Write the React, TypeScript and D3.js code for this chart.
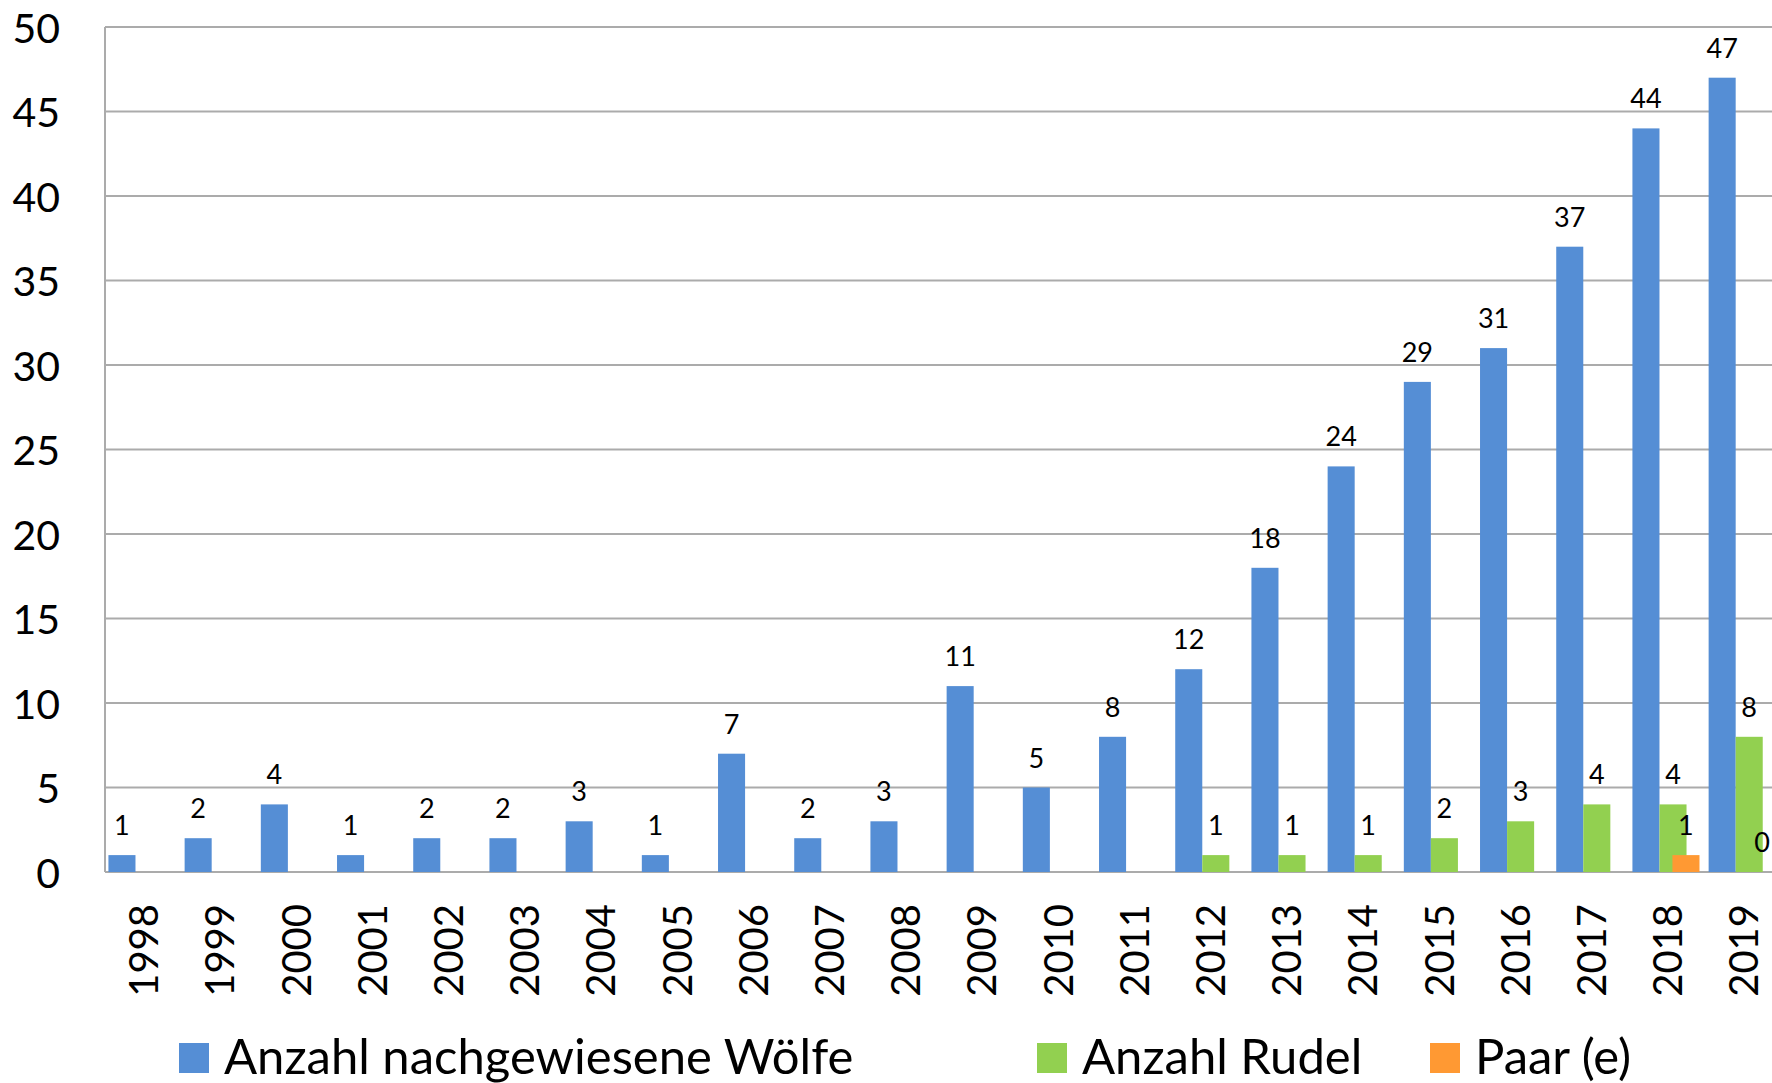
import React from 'react'
import * as d3 from 'd3'

// Wolf counts per year
const years = ['1998', '1999', '2000', '2001', '2002', '2003', '2004', '2005', '2006', '2007', '2008',
  '2009', '2010', '2011', '2012', '2013', '2014', '2015', '2016', '2017', '2018', '2019']
const wolves = [1, 2, 4, 1, 2, 2, 3, 1, 7, 2, 3, 11, 5, 8, 12, 18, 24, 29, 31, 37, 44, 47]
const packs = [null, null, null, null, null, null, null, null, null, null, null, null, null, null,
  1, 1, 1, 2, 3, 4, 4, 8]
const pairs = [null, null, null, null, null, null, null, null, null, null, null, null, null, null,
  null, null, null, null, null, null, 1, 0]
const yTicks = [0, 5, 10, 15, 20, 25, 30, 35, 40, 45, 50]
const seriesNames = ['Anzahl nachgewiesene Wölfe', 'Anzahl Rudel', 'Paar (e)']

const W = 1772
const H = 1083
const FONT = 'Lato, "Open Sans", sans-serif'
const colors = ['#558ed5', '#92d050', '#ff9933']
const gridColor = '#ababab'

export default function App() {
  const m = { left: 105, top: 27 }
  const plotBottom = 872
  const x = d3.scaleBand().domain(years).range([m.left, m.left + 76.2 * years.length]).padding(0)
  const y = d3.scaleLinear().domain([0, 50]).range([plotBottom, m.top])
  const bw = x.bandwidth()
  const barW = bw * 0.355
  // offsets of each series inside a category (orange overlaps the green one)
  const offsets = [bw * 0.045, bw * 0.4, bw * 0.57]
  const series = [wolves, packs, pairs]

  return (
    <svg width={W} height={H} style={{ position: 'absolute', left: 0, top: 0, background: '#fff' }}
      fontFamily={FONT}>
      {/* grid */}
      {yTicks.map((t) => (
        <g key={t}>
          <line x1={m.left} x2={W} y1={y(t)} y2={y(t)} stroke={gridColor} strokeWidth={2} />
          <text x={60} y={y(t)} textAnchor="end" dominantBaseline="central" fontSize={41} fill="#000">{t}</text>
        </g>
      ))}
      <line x1={m.left} x2={m.left} y1={m.top} y2={plotBottom} stroke={gridColor} strokeWidth={2} />

      {/* bars */}
      {series.map((vals, si) => (
        <g key={si}>
          {vals.map((v, i) => v === null ? null : (
            <g key={i}>
              {v > 0 && <rect x={(x(years[i]) as number) + offsets[si]} y={y(v)} width={barW}
                height={plotBottom - y(v)} fill={colors[si]} />}
              <text x={(x(years[i]) as number) + offsets[si] + barW / 2} y={y(v) - 20}
                textAnchor="middle" fontSize={27} fill="#000">{v}</text>
            </g>
          ))}
        </g>
      ))}

      {/* year labels */}
      {years.map((yr) => (
        <text key={yr} transform={`translate(${(x(yr) as number) + bw / 2},904) rotate(-90)`}
          textAnchor="end" dominantBaseline="central" fontSize={40} fill="#000">{yr}</text>
      ))}

      {/* legend */}
      {[179, 1037, 1430].map((lx, i) => (
        <g key={i}>
          <rect x={lx} y={1043} width={30} height={30} fill={colors[i]} />
          <text x={lx + 45} y={1074} fontSize={49} fill="#000">{seriesNames[i]}</text>
        </g>
      ))}
    </svg>
  )
}
